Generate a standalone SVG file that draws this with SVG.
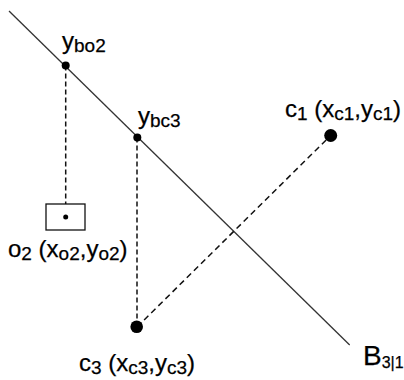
<svg xmlns="http://www.w3.org/2000/svg" width="404" height="380" viewBox="0 0 404 380">
  <style>
    .lbl { font-family: "Liberation Sans", Arial, sans-serif; font-size: 24px; fill: #000; stroke: #000; stroke-width: 0.25; }
    .sub { font-size: 19px; }
    .dash { stroke: #111; stroke-width: 1.5; fill: none; stroke-dasharray: 5 3; }
    .dash2 { stroke: #111; stroke-width: 1.5; fill: none; stroke-dasharray: 6 4; }
    .dot { fill: #000; }
  </style>
  <rect width="404" height="380" fill="#fff"/>
  <g id="connectors">
    <line id="B31-line" x1="9" y1="11" x2="349.7" y2="345" stroke="#333" stroke-width="1.3"/>
    <line x1="65.7" y1="65.5" x2="65.7" y2="204" class="dash"/>
    <line x1="137" y1="137.5" x2="137" y2="327" class="dash"/>
    <line x1="137" y1="327" x2="330.7" y2="135.5" class="dash2"/>
  </g>
  <g id="ybo2">
    <circle cx="65.7" cy="65.5" r="4" class="dot"/>
    <text x="62" y="48.5" class="lbl">y<tspan class="sub" dy="3">bo2</tspan></text>
  </g>
  <g id="ybc3">
    <circle cx="137.3" cy="137.5" r="4" class="dot"/>
    <text x="138" y="124" class="lbl">y<tspan class="sub" dy="3">bc3</tspan></text>
  </g>
  <g id="c1">
    <circle cx="330.7" cy="135.5" r="6.5" class="dot"/>
    <text x="285" y="116.5" class="lbl">c<tspan class="sub" dy="3">1</tspan><tspan dy="-3"> (x</tspan><tspan class="sub" dy="3">c1</tspan><tspan dy="-3">,y</tspan><tspan class="sub" dy="3">c1</tspan><tspan dy="-3">)</tspan></text>
  </g>
  <g id="o2">
    <rect x="46" y="204" width="39" height="26" fill="none" stroke="#111" stroke-width="1.3"/>
    <circle cx="65.7" cy="217" r="2.5" class="dot"/>
    <text x="8" y="257" class="lbl">o<tspan class="sub" dy="3">2</tspan><tspan dy="-3"> (x</tspan><tspan class="sub" dy="3">o2</tspan><tspan dy="-3">,y</tspan><tspan class="sub" dy="3">o2</tspan><tspan dy="-3">)</tspan></text>
  </g>
  <g id="c3">
    <circle cx="136.7" cy="326.7" r="6.3" class="dot"/>
    <text x="79" y="371" class="lbl">c<tspan class="sub" dy="3">3</tspan><tspan dy="-3"> (x</tspan><tspan class="sub" dy="3">c3</tspan><tspan dy="-3">,y</tspan><tspan class="sub" dy="3">c3</tspan><tspan dy="-3">)</tspan></text>
  </g>
  <g id="B31">
    <text x="363" y="365" class="lbl" style="font-size:28px">B<tspan class="sub" style="font-size:16px" dy="3">3|1</tspan></text>
  </g>
</svg>
